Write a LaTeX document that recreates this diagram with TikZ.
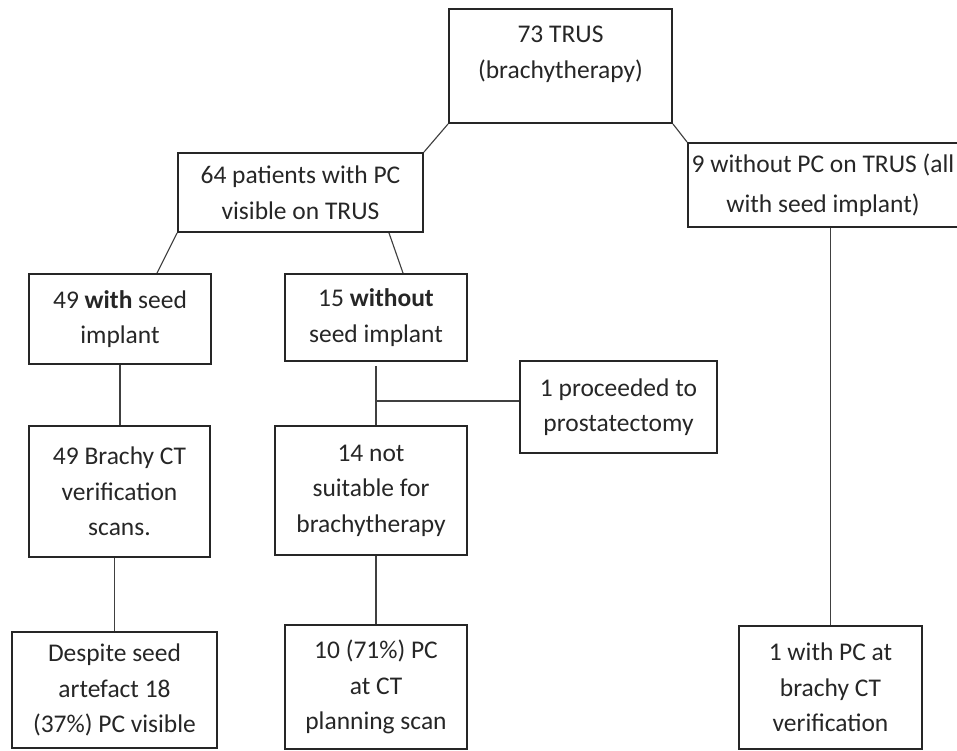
\documentclass[tikz,border=0pt]{standalone}
\usepackage{fontspec}
\setmainfont{Carlito}
\usetikzlibrary{calc}

\begin{document}
\begin{tikzpicture}[every node/.style={font=\fontsize{14.5}{20.2}\selectfont,text=black!85},
      stage/.style={draw=black!85,line width=1.1pt,inner sep=0pt,align=center},
      link/.style={draw=black!75,line width=0.65pt}]
      \useasboundingbox (0,0) rectangle (19.14,-15);

      \node[stage,minimum width=4.46cm,minimum height=2.28cm] (trus) at (11.21,-1.32) { 73 TRUS\\(brachytherapy)\\[-0.16cm]~ };

      \node[stage,minimum width=4.90cm,minimum height=1.58cm] (pcvis) at ( 6.01,-3.85) { 64 patients with PC\\visible on TRUS };
      \node[stage,minimum width=5.40cm,minimum height=1.68cm] (nopc) at (16.46,-3.70) { 9 without PC on TRUS (all\\[0.08cm]with seed implant) };

      \node[stage,minimum width=3.64cm,minimum height=1.80cm] (seed) at ( 2.40,-6.38) { 49 \textbf{with} seed\\implant };
      \node[stage,minimum width=3.64cm,minimum height=1.74cm] (noseed) at ( 7.52,-6.35) { 15 \textbf{without}\\seed implant };
      \node[stage,minimum width=3.94cm,minimum height=1.84cm] (prost) at (12.37,-8.14) { 1 proceeded to\\prostatectomy };

      \node[stage,minimum width=3.62cm,minimum height=2.62cm] (brct) at ( 2.39,-9.83) { 49 Brachy CT\\verification\\scans. };
      \node[stage,minimum width=3.84cm,minimum height=2.58cm] (unsuit) at ( 7.42,-9.81) { 14 not\\suitable for\\brachytherapy };

      \node[stage,minimum width=4.10cm,minimum height=2.32cm] (desp) at ( 2.29,-13.80) { Despite seed\\artefact 18\\(37\%) PC visible };
      \node[stage,minimum width=3.64cm,minimum height=2.48cm] (plan) at ( 7.52,-13.74) { 10 (71\%) PC\\at CT\\planning scan };
      \node[stage,minimum width=3.66cm,minimum height=2.46cm] (verif) at (16.61,-13.75) { 1 with PC at\\brachy CT\\verification };

      \coordinate (split) at (7.52,-8.02);

      \path[link]
      (trus.south west) edge (pcvis.north east)
      (trus.south east) edge (nopc.north west)

      (pcvis.south west) edge ([xshift=0.74cm]seed.north)
      ([xshift=1.77cm]pcvis.south) edge ([xshift=0.54cm]noseed.north)

      (seed.south) edge (seed.south |- brct.north)
      (desp.north |- brct.south) edge (desp.north)

      ([yshift=-0.08cm]noseed.south) edge (noseed.south |- unsuit.north)
      (split) edge (split -| prost.west)
      (plan.north |- unsuit.south) edge (plan.north)

      (verif.north |- nopc.south) edge (verif.north)
      ;

\end{tikzpicture}
\end{document}
